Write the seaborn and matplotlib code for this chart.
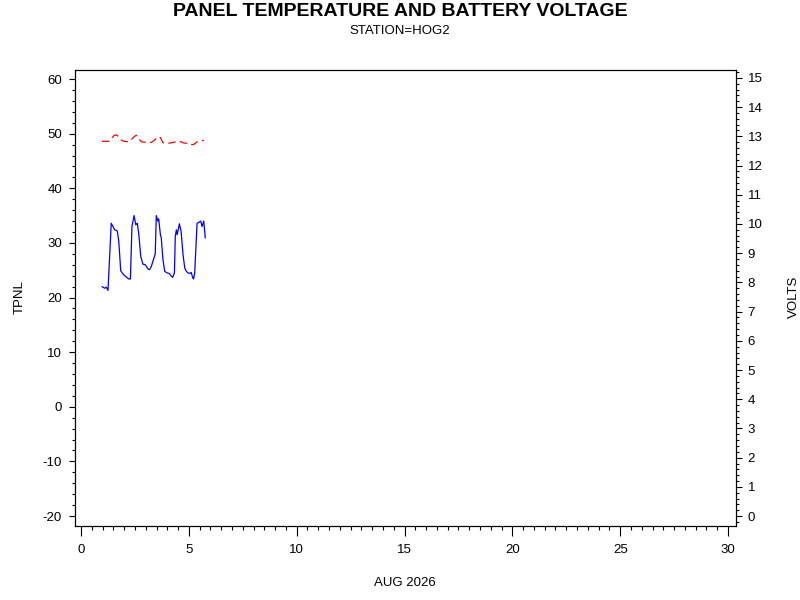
#!/usr/bin/env python3
"""Panel temperature and battery voltage, station HOG2, Aug 2026."""

import matplotlib

matplotlib.use("Agg")
import matplotlib.pyplot as plt
import numpy as np
import pandas as pd
import seaborn as sns
from matplotlib.ticker import MultipleLocator

# panel temperature (left axis)
temp_day = [0.97, 1.10, 1.17, 1.25, 1.40, 1.48, 1.56, 1.68, 1.75, 1.84, 1.95,
            2.05, 2.21, 2.29, 2.36, 2.46, 2.54, 2.61, 2.68, 2.77, 2.87, 2.98,
            3.11, 3.18, 3.26, 3.37, 3.44, 3.49, 3.56, 3.60, 3.68, 3.72, 3.80,
            3.88, 3.99, 4.09, 4.19, 4.25, 4.33, 4.37, 4.42, 4.46, 4.56, 4.64,
            4.73, 4.81, 4.88, 4.96, 5.04, 5.11, 5.18, 5.22, 5.27, 5.38, 5.48,
            5.55, 5.61, 5.69, 5.76]
temp_c = [22.0, 21.7, 21.9, 21.3, 33.6, 33.0, 32.4, 32.2, 30.3, 24.9, 24.3,
          23.9, 23.4, 23.4, 33.0, 35.0, 33.3, 33.6, 31.5, 27.5, 26.1, 26.0,
          25.2, 25.1, 25.7, 27.1, 28.0, 35.0, 34.0, 34.4, 31.5, 30.9, 26.9,
          24.8, 24.5, 24.4, 23.9, 23.7, 24.5, 31.2, 32.4, 31.5, 33.5, 32.1,
          27.8, 25.4, 24.8, 24.5, 24.4, 24.6, 23.6, 23.4, 24.5, 33.6, 33.8,
          34.0, 33.0, 34.0, 30.9]

# battery voltage (right axis)
volt_day = [0.97, 1.10, 1.28, 1.38, 1.53, 1.64, 1.72, 1.75, 1.85, 1.95, 2.03,
            2.21, 2.33, 2.45, 2.56, 2.64, 2.71, 2.80, 2.95, 3.07, 3.26, 3.37,
            3.47, 3.57, 3.63, 3.68, 3.80, 3.95, 4.14, 4.37, 4.40, 4.52, 4.65,
            4.76, 4.84, 4.96, 5.10, 5.22, 5.38, 5.57, 5.70]
volt_v = [12.83, 12.83, 12.83, 12.89, 13.03, 13.05, 13.00, 12.95, 12.88,
          12.84, 12.83, 12.81, 12.89, 12.98, 13.04, 12.97, 12.89, 12.81,
          12.80, 12.81, 12.79, 12.85, 12.92, 12.97, 12.99, 12.95, 12.78,
          12.77, 12.77, 12.81, 12.83, 12.83, 12.81, 12.77, 12.77, 12.74,
          12.72, 12.72, 12.81, 12.85, 12.86]

x_ticks = [0, 5, 10, 15, 20, 25, 30]

FONT = ["Liberation Sans", "DejaVu Sans"]


def main() -> None:
    sns.set_theme(style="ticks")
    plt.rcParams["font.family"] = FONT
    plt.rcParams["axes.unicode_minus"] = False
    plt.rcParams["text.color"] = "black"
    plt.rcParams["axes.labelcolor"] = "black"

    temp = pd.DataFrame({"day": temp_day, "tpnl": temp_c})
    volt = pd.DataFrame({"day": volt_day, "volts": volt_v})

    fig = plt.figure(figsize=(8, 6), dpi=100)
    ax = fig.add_axes([0.09375, 0.1233, 0.82625, 0.76])
    ax2 = ax.twinx()

    sns.lineplot(data=temp, x="day", y="tpnl", ax=ax, color="#0000ff",
                 linewidth=0.9, estimator=None, sort=False)
    sns.lineplot(data=volt, x="day", y="volts", ax=ax2, color="#ff0000",
                 linewidth=0.9, estimator=None, sort=False,
                 linestyle=(0, (6, 3.5)))

    ax.set_xlim(-0.28, 30.37)
    ax.set_ylim(-21.83, 61.65)
    ax2.set_ylim(-0.34, 15.27)

    ax.set_xticks(x_ticks)
    ax.xaxis.set_minor_locator(MultipleLocator(0.5))
    ax.yaxis.set_major_locator(MultipleLocator(10))
    ax.yaxis.set_minor_locator(MultipleLocator(2))
    ax2.yaxis.set_major_locator(MultipleLocator(1))
    ax2.yaxis.set_minor_locator(MultipleLocator(0.2))

    for a in (ax, ax2):
        for s in a.spines.values():
            s.set_visible(True)
            s.set_linewidth(0.8)
            s.set_color("black")
        a.grid(False)

    ax.tick_params(axis="y", which="major", direction="out", length=4.3,
                   width=0.8, pad=5, labelsize=9.5, colors="black")
    ax.tick_params(axis="y", which="minor", direction="out", length=2.2,
                   width=0.8, colors="black")
    ax.tick_params(axis="x", which="major", direction="out", length=7.2,
                   width=0.8, pad=6, labelsize=9.5, colors="black")
    ax.tick_params(axis="x", which="minor", direction="out", length=3,
                   width=0.8, colors="black")
    ax2.tick_params(axis="y", which="major", direction="out", length=4.3,
                    width=0.8, pad=4, labelsize=9.5, colors="black")
    ax2.tick_params(axis="y", which="minor", direction="out", length=2.2,
                    width=0.8, colors="black")

    ax.set_xlabel("AUG 2026", fontsize=9.5)
    ax.set_ylabel("TPNL", fontsize=9.5)
    ax2.set_ylabel("VOLTS", fontsize=9.5)
    ax.xaxis.set_label_coords(0.499, -0.1118)
    ax.yaxis.set_label_coords(-0.0741, 0.502)
    ax2.yaxis.set_label_coords(1.078, 0.502)

    fig.text(0.5, 1 - 11 / 600, "PANEL TEMPERATURE AND BATTERY VOLTAGE",
             ha="center", va="center", fontsize=14, fontweight="bold")
    fig.text(0.5, 1 - 31 / 600, "STATION=HOG2", ha="center", va="center",
             fontsize=9.5)

    fig.savefig("out.png", dpi=100, facecolor="white")
    plt.close(fig)


if __name__ == "__main__":
    main()
